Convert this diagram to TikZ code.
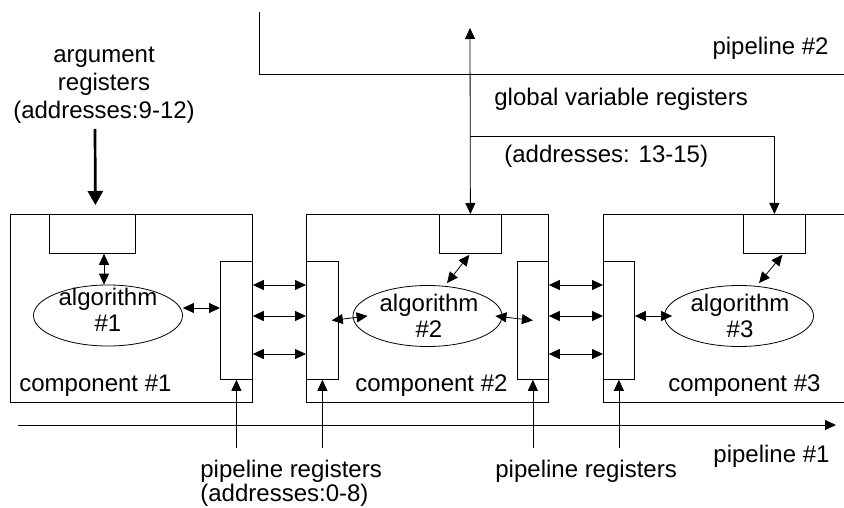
\documentclass[tikz,border=0pt]{standalone}
\usepackage{fontspec}
\setmainfont{Liberation Sans}
\usetikzlibrary{arrows.meta,shapes.geometric,calc}
\begin{document}
\begin{tikzpicture}[x=1pt,y=-1pt,
  line width=0.8pt,
  box/.style={draw, inner sep=0pt, anchor=north west},
  alg/.style={draw, ellipse, inner sep=0pt, minimum width=149pt, minimum height=61pt},
  txt/.style={inner sep=0pt, font=\fontsize{24}{28}\selectfont, anchor=base},
  txtl/.style={txt, anchor=base west},
  txtr/.style={txt, anchor=base east},
  tip/.style={-{Triangle[length=11pt,width=10pt]}},
  dbl/.style={{Triangle[length=11pt,width=10pt]}-{Triangle[length=11pt,width=10pt]}},
  bigarrow/.style={line width=2.7pt, -{Triangle[length=14pt,width=15pt]}}
]
\useasboundingbox (0,0) rectangle (844,508);

% pipeline #2 boundary
\coordinate (p2a) at (259,12);
\coordinate (p2b) at (259,74);
\coordinate (p2c) at (844,74);
\draw (p2a) -- (p2b) -- (p2c);
\node[txtr] (p2lbl) at (829,55) {pipeline \#2};
\node[txtl] (gvr) at (494,106) {global variable registers};
\node[txtl] (gaddr) at (504,163) {(addresses: 13-15)};

% argument registers label
\node[txt] (arglbl) at (104,63) {\begin{tabular}[t]{@{}c@{}}argument\\registers\\(addresses:9-12)\end{tabular}};

% components
\node[box, minimum width=242pt, minimum height=188pt] (c1) at (10,214) {};
\node[box, minimum width=242pt, minimum height=188pt] (c2) at (306,214) {};
\coordinate (c3a) at (844,214);
\coordinate (c3b) at (603,214);
\coordinate (c3c) at (603,402);
\coordinate (c3d) at (844,402);
\draw (c3a) -- (c3b) -- (c3c) -- (c3d);

\node[txtl] (c1lbl) at (19,391) {component \#1};
\node[txtl] (c2lbl) at (355,391) {component \#2};
\node[txtl] (c3lbl) at (668,391) {component \#3};

% top registers
\node[box, minimum width=86pt, minimum height=39pt] (tr1) at (49,214) {};
\node[box, minimum width=62pt, minimum height=39pt] (tr2) at (439,214) {};
\node[box, minimum width=62pt, minimum height=39pt] (tr3) at (743,214) {};

% pipeline registers
\node[box, minimum width=32pt, minimum height=118pt] (pr1) at (220,261) {};
\node[box, minimum width=32pt, minimum height=118pt] (pr2a) at (306,261) {};
\node[box, minimum width=31pt, minimum height=118pt] (pr2b) at (517,261) {};
\node[box, minimum width=31pt, minimum height=118pt] (pr3) at (603,261) {};

% algorithms
\node[alg] (a1) at (108,315.5) {};
\node[alg] (a2) at (427.5,316) {};
\node[alg] (a3) at (739,316) {};
\node[txt, font=\fontsize{24}{26}\selectfont] (a1t) at (108,305) {\begin{tabular}[t]{@{}c@{}}algorithm\\\#1\end{tabular}};
\node[txt, font=\fontsize{24}{26}\selectfont] (a2t) at (429,311) {\begin{tabular}[t]{@{}c@{}}algorithm\\\#2\end{tabular}};
\node[txt, font=\fontsize{24}{26}\selectfont] (a3t) at (740,311) {\begin{tabular}[t]{@{}c@{}}algorithm\\\#3\end{tabular}};

% argument arrow
\coordinate (argtop) at (95,129);
\draw[bigarrow] (argtop) -- ($(tr1.north)+(3,-9)$);

% global variable arrows
\coordinate (gtop) at (470,28);
\draw[dbl] (gtop) -- (tr2.north);
\draw[tip] (tr2.north |- 0,136) -- (tr3.north |- 0,136) -- (tr3.north);

% register <-> algorithm
\draw[dbl] (tr1.south -| 104,0) -- (a1.north -| 104,0);
\draw[dbl] ($(tr2.south)+(-1,1)$) -- ($(a2.north)+(19.5,-2)$);
\draw[dbl] ($(tr3.south)+(8,1)$) -- ($(a3.north)+(20,-2)$);

% algorithm <-> pipeline registers
\draw[dbl] (a1.east |- 0,308) -- (pr1.west |- 0,308);
\draw[dbl] ($(pr2a.east)+(-7,0)$) -- ($(a2.west)+(15,0)$);
\draw[dbl] ($(a2.east)+(-7,0)$) -- (pr2b.center);
\draw[dbl] (pr3.east |- 0,316) -- ($(a3.west)+(8,0)$);

% between components
\foreach \yy in {285,316,354} {
  \draw[dbl] (pr1.east |- 0,\yy) -- (pr2a.west |- 0,\yy);
  \draw[dbl] (pr2b.east |- 0,\yy) -- (pr3.west |- 0,\yy);
}

% pipeline #1
\coordinate (p1s) at (18,425);
\coordinate (p1e) at (836,425);
\draw[tip] (p1s) -- (p1e);
\node[txtl] (p1lbl) at (713,462) {pipeline \#1};

% pipeline register pointers
\draw[tip] (pr1.south |- 0,448) -- (pr1.south);
\draw[tip] (pr2a.south |- 0,448) -- (pr2a.south);
\draw[tip] (pr2b.south |- 0,448) -- (pr2b.south);
\draw[tip] (pr3.south |- 0,448) -- (pr3.south);

\node[txt, font=\fontsize{24}{24}\selectfont, anchor=base west] (prl1) at (200,477) {\begin{tabular}[t]{@{}l@{}}pipeline registers\\(addresses:0-8)\end{tabular}};
\node[txtl] (prl2) at (495,477) {pipeline registers};
\end{tikzpicture}
\end{document}
